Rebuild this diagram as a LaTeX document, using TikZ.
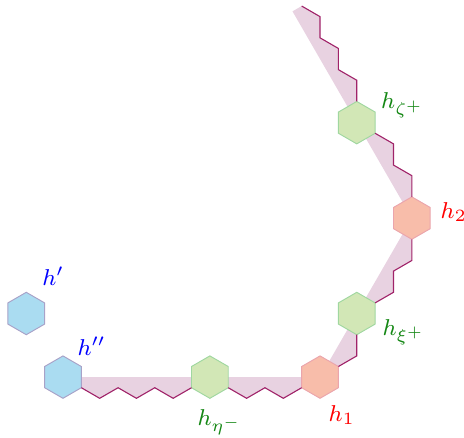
\documentclass[tikz,border=0pt]{standalone}
\usepackage{amsmath}
\usepackage{xcolor}
\usepackage{tikz}
\usetikzlibrary{shapes.geometric}
\definecolor{outercol}{RGB}{170,220,241}
\definecolor{outerline}{RGB}{168,162,200}
\definecolor{midcol}{RGB}{210,231,182}
\definecolor{midline}{RGB}{160,215,160}
\definecolor{cornercol}{RGB}{248,189,170}
\definecolor{cornerline}{RGB}{235,165,172}
\definecolor{bandcol}{RGB}{232,210,225}
\definecolor{zigcol}{RGB}{160,35,105}
\definecolor{labblue}{RGB}{0,0,255}
\definecolor{labgreen}{RGB}{20,135,20}
\definecolor{labred}{RGB}{255,0,0}

\begin{document}
\begin{tikzpicture}[
    x=0.407cm, y=0.235cm,
    %% ── Base hexagon style (pointy top) ──
    hexbox/.style={
        regular polygon, regular polygon sides=6, shape border rotate=30,
        draw, line width=0.6pt, minimum size=0.94cm,
        inner sep=0pt, outer sep=0pt
    },
    %% ── Specialized hexagons ──
    outer/.style={hexbox, fill=outercol, draw=outerline},
    middle/.style={hexbox, fill=midcol, draw=midline},
    corner/.style={hexbox, fill=cornercol, draw=cornerline},
    %% ── Band / zigzag / label styles ──
    band/.style={fill=bandcol},
    zig/.style={line width=0.7pt, color=zigcol},
    lbl/.style={font=\footnotesize, scale=1.81, inner sep=0pt, anchor=base west},
]
\useasboundingbox (-17.43,-5.66) rectangle (7.84,35.57);

% ── Hexagon centres ──
\coordinate (chpp)  at (-14, 0);
\coordinate (cheta) at (-6, 0);
\coordinate (chone) at (0, 0);
\coordinate (chxi)  at (2, 6);
\coordinate (chtwo) at (5, 15);
\coordinate (czeta) at (2, 24);
\coordinate (chp)   at (-16, 6);
\coordinate (bandend) at (-1.5, 34.5);

% ── Shaded band (centre line to zigzag) ──
\fill[band] (bandend) -- (-1,35) -- (0,34) -- (0,32) -- (1,31) -- (1,29)
    -- (2,28) -- (2,26) -- (3,23) -- (4,22) -- (4,20) -- (5,19) -- (5,17)
    -- (5,13) -- (5,11) -- (4,10) -- (4,8) -- (3,7) -- (2,4) -- (2,2)
    -- (1,1) -- (-1,-1) -- (-2,-2) -- (-3,-1) -- (-4,-2) -- (-5,-1)
    -- (-7,-1) -- (-8,-2) -- (-9,-1) -- (-10,-2) -- (-11,-1) -- (-12,-2)
    -- (-13,-1) -- (chpp) -- (chone) -- (chtwo) -- cycle;

% ── Hexagons ──
\node[outer]  (hp)   at (chp)   {};
\node[outer]  (hpp)  at (chpp)  {};
\node[middle] (heta) at (cheta) {};
\node[corner] (hone) at (chone) {};
\node[middle] (hxi)  at (chxi)  {};
\node[corner] (htwo) at (chtwo) {};
\node[middle] (hzeta) at (czeta) {};

% ── Zigzag boundary ──
\draw[zig] (hpp.-30) -- ++(1,-1) -- ++(1,1) -- ++(1,-1) -- ++(1,1)
    -- ++(1,-1) -- (heta.-150);
\draw[zig] (heta.-30) -- ++(1,-1) -- ++(1,1) -- ++(1,-1) -- (hone.-150);
\draw[zig] (hone.30) -- ++(1,1) -- (hxi.-90);
\draw[zig] (hxi.30) -- ++(1,1) -- ++(0,2) -- ++(1,1) -- (htwo.-90);
\draw[zig] (htwo.90) -- ++(0,2) -- ++(-1,1) -- ++(0,2) -- (hzeta.-30);
\draw[zig] (hzeta.90) -- ++(0,2) -- ++(-1,1) -- ++(0,2) -- ++(-1,1)
    -- ++(0,2) -- ++(-1,1);

% ── Labels ──
\node[lbl, text=labblue]  (lhp)   at (-15.15, 8.68) {$h'$};
\node[lbl, text=labblue]  (lhpp)  at (-13.24, 2.08) {$h''$};
\node[lbl, text=labgreen] (lheta) at (-6.7, -4.53)  {$h_{\eta^-}$};
\node[lbl, text=labred]   (lhone) at (0.44, -4.2)   {$h_1$};
\node[lbl, text=labgreen] (lxi)   at (3.38, 3.96)   {$h_{\xi^+}$};
\node[lbl, text=labred]   (lhtwo) at (6.54, 15.0)   {$h_2$};
\node[lbl, text=labgreen] (lzeta) at (3.3, 25.35)   {$h_{\zeta^+}$};

\end{tikzpicture}
\end{document}
